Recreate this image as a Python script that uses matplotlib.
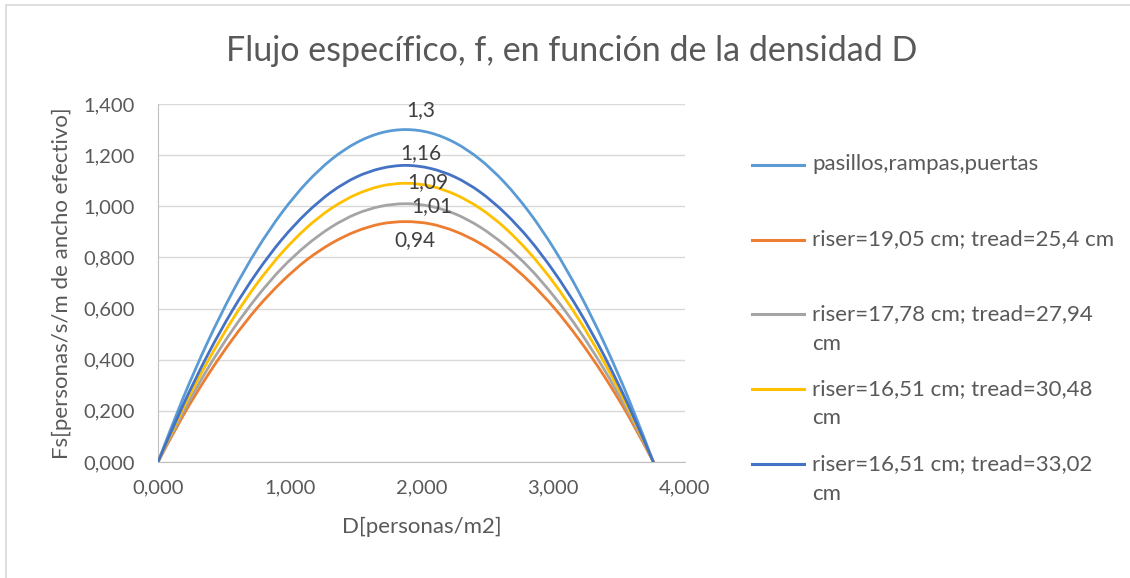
import matplotlib
matplotlib.use("Agg")
import matplotlib.pyplot as plt
from matplotlib.lines import Line2D
from matplotlib.patches import Rectangle, PathPatch
from matplotlib.path import Path
from matplotlib.ticker import FuncFormatter, MultipleLocator

plt.rcParams['font.family'] = ['Lato', 'DejaVu Sans']

# density D [personas/m2]
densidad = [0, 0.188, 0.376, 0.564, 0.752, 0.94, 1.128, 1.316, 1.504, 1.692,
            1.88, 2.068, 2.256, 2.444, 2.632, 2.82, 3.008, 3.196, 3.384,
            3.572, 3.76]

# specific flow Fs for each route type
pasillos = [0, 0.247, 0.468, 0.663, 0.832, 0.975, 1.092, 1.183, 1.248, 1.287,
            1.30, 1.287, 1.248, 1.183, 1.092, 0.975, 0.832, 0.663, 0.468,
            0.247, 0]
riser_1905 = [0, 0.179, 0.338, 0.479, 0.602, 0.705, 0.790, 0.855, 0.902, 0.931,
              0.94, 0.931, 0.902, 0.855, 0.790, 0.705, 0.602, 0.479, 0.338,
              0.179, 0]
riser_1778 = [0, 0.192, 0.364, 0.515, 0.646, 0.758, 0.848, 0.919, 0.970, 1.000,
              1.01, 1.000, 0.970, 0.919, 0.848, 0.758, 0.646, 0.515, 0.364,
              0.192, 0]
riser_1651_a = [0, 0.207, 0.392, 0.556, 0.698, 0.818, 0.916, 0.992, 1.046, 1.079,
                1.09, 1.079, 1.046, 0.992, 0.916, 0.818, 0.698, 0.556, 0.392,
                0.207, 0]
riser_1651_b = [0, 0.220, 0.418, 0.592, 0.742, 0.870, 0.974, 1.056, 1.114, 1.148,
                1.16, 1.148, 1.114, 1.056, 0.974, 0.870, 0.742, 0.592, 0.418,
                0.220, 0]

nombres = ['pasillos,rampas,puertas',
           'riser=19,05 cm; tread=25,4 cm',
           'riser=17,78 cm; tread=27,94\ncm',
           'riser=16,51 cm; tread=30,48\ncm',
           'riser=16,51 cm; tread=33,02\ncm']
series = [pasillos, riser_1905, riser_1778, riser_1651_a, riser_1651_b]
colores = ['#5B9BD5', '#ED7D31', '#A5A5A5', '#FFC000', '#4472C4']
pico_idx = 10
# offset (points) of each peak label
offsets = [(11, 14), (7, -13), (19, -2), (16, 1), (11, 9)]

texto = '#595959'
rejilla = '#D9D9D9'


def curva_suave(x, y):
    # Catmull-Rom through the points, written as cubic Bezier segments
    pts = list(zip(x, y))
    n = len(pts)
    verts = [pts[0]]
    codes = [Path.MOVETO]
    for i in range(n - 1):
        x0, y0 = pts[max(i - 1, 0)]
        x1, y1 = pts[i]
        x2, y2 = pts[i + 1]
        x3, y3 = pts[min(i + 2, n - 1)]
        c1 = (x1 + (x2 - x0) / 6, y1 + (y2 - y0) / 6)
        c2 = (x2 - (x3 - x1) / 6, y2 - (y3 - y1) / 6)
        verts += [c1, c2, (x2, y2)]
        codes += [Path.CURVE4] * 3
    return Path(verts, codes)


fig = plt.figure(figsize=(11.3, 5.78), dpi=100)
fig.patches.append(Rectangle((6 / 1130, -0.1), 1.2, 1 - 5 / 578 + 0.1,
                             transform=fig.transFigure, fill=False,
                             edgecolor='#D9D9D9', linewidth=1.2))
ax = fig.add_axes([158 / 1130, 1 - 462 / 578, 527 / 1130, 358 / 578])

for i in range(5):
    ax.add_patch(PathPatch(curva_suave(densidad, series[i]), fill=False,
                           edgecolor=colores[i], linewidth=2.0,
                           capstyle='round', zorder=3 + i))

for i in range(5):
    v = series[i][pico_idx]
    ax.annotate(f"{v:g}".replace('.', ','), (densidad[pico_idx], v),
                xytext=offsets[i], textcoords='offset points',
                ha='center', va='center', fontsize=15, color='#404040',
                zorder=10)

ax.set_xlim(0, 4)
ax.set_ylim(0, 1.4)
ax.xaxis.set_major_locator(MultipleLocator(1))
ax.yaxis.set_major_locator(MultipleLocator(0.2))
fmt = FuncFormatter(lambda v, p: f"{v:.3f}".replace('.', ','))
ax.xaxis.set_major_formatter(fmt)
ax.yaxis.set_major_formatter(fmt)
ax.tick_params(length=0, labelsize=14.5, labelcolor=texto)
ax.tick_params(axis='x', pad=12.5)
ax.tick_params(axis='y', pad=17)
ax.grid(axis='y', color=rejilla, linewidth=1)
ax.set_axisbelow(True)
for s in ['top', 'right']:
    ax.spines[s].set_visible(False)
for s in ['left', 'bottom']:
    ax.spines[s].set_color('#BFBFBF')

ax.set_xlabel('D[personas/m2]', fontsize=16, color=texto, labelpad=14.5)
ax.set_ylabel('Fs[personas/s/m de ancho efectivo]', fontsize=16,
              color=texto, labelpad=8)
fig.text(572 / 1130, 1 - 61 / 578,
         'Flujo específico, f, en función de la densidad D',
         ha='center', va='baseline', fontsize=24.5, color=texto)

# legend entries, wrapped lines stacked under the first one
y_ent = [164.5, 239.5, 314, 389, 464]
for i in range(5):
    yf = 1 - y_ent[i] / 578
    fig.add_artist(Line2D([752 / 1130, 804 / 1130], [yf, yf],
                          transform=fig.transFigure, color=colores[i],
                          linewidth=2.2))
    for k, linea in enumerate(nombres[i].split('\n')):
        fig.text(812 / 1130, 1 - (y_ent[i] + 29.5 * k) / 578, linea,
                 ha='left', va='center', fontsize=16, color=texto)

fig.savefig('out.png', dpi=100)
